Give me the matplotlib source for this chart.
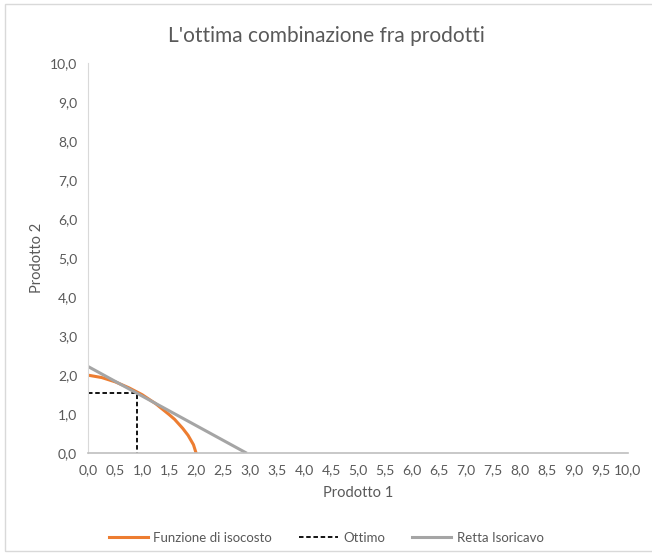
import matplotlib.pyplot as plt
from matplotlib.lines import Line2D
from matplotlib.ticker import FuncFormatter, MultipleLocator

# Funzione di isocosto
iso_x = [0.0, 0.25, 0.5, 0.75, 1.0, 1.25, 1.5, 1.6, 1.75, 1.85, 1.95, 2.0]
iso_y = [2.0, 1.94, 1.83, 1.68, 1.50, 1.27, 0.99, 0.87, 0.64, 0.46, 0.22, 0.0]

# Ottimo (dashed guide to the tangency point)
opt_x = [0.0, 0.91, 0.91]
opt_y = [1.55, 1.55, 0.0]

# Retta isoricavo
ret_x = [0.0, 2.94]
ret_y = [2.22, 0.0]

title = "L'ottima combinazione fra prodotti"
labels = ["Funzione di isocosto", "Ottimo", "Retta Isoricavo"]

plt.rcParams['font.family'] = ['Lato', 'DejaVu Sans']
txt = "#595959"

fig = plt.figure(figsize=(6.52, 5.57), dpi=100)
ax = fig.add_axes([0.1354, 0.1862, 0.8273, 0.7008])

ax.plot(iso_x, iso_y, color="#ed7d31", lw=2.2, label=labels[0], solid_joinstyle="round")
ax.plot(opt_x, opt_y, color="black", lw=1.3, ls=(0, (2.5, 1.5)), label=labels[1])
ax.plot(ret_x, ret_y, color="#a5a5a5", lw=2.2, label=labels[2], solid_capstyle="butt")

ax.set_xlim(0, 10)
ax.set_ylim(0, 10)
ax.xaxis.set_major_locator(MultipleLocator(0.5))
ax.yaxis.set_major_locator(MultipleLocator(1))
fmt = FuncFormatter(lambda v, p: f"{v:.1f}".replace(".", ","))
ax.xaxis.set_major_formatter(fmt)
ax.yaxis.set_major_formatter(fmt)
ax.tick_params(length=0, labelsize=10, labelcolor=txt, pad=8)

for s in ["top", "right"]:
    ax.spines[s].set_visible(False)
ax.spines["left"].set_color("#d9d9d9")
ax.spines["bottom"].set_color("#bfbfbf")
ax.spines["bottom"].set_linewidth(1.2)

ax.set_xlabel("Prodotto 1", fontsize=10.5, color=txt, labelpad=7)
ax.set_ylabel("Prodotto 2", fontsize=10.5, color=txt, labelpad=4)
fig.text(0.5, 0.935, title, ha="center", va="center", fontsize=15, color=txt)

handles = [
    Line2D([], [], color="#ed7d31", lw=2.2),
    Line2D([], [], color="black", lw=1.3, ls=(0, (2.5, 1.5))),
    Line2D([], [], color="#a5a5a5", lw=2.2),
]
fig.legend(handles, labels, loc="center", bbox_to_anchor=(0.5, 0.034), ncol=3,
           frameon=False, fontsize=9.5, labelcolor=txt, handlelength=3.0,
           handletextpad=0.4, columnspacing=2.0)

# light frame around the chart area
frame = plt.Rectangle((0.008, 0.01), 0.995, 0.982, transform=fig.transFigure,
                      fill=False, edgecolor="#d9d9d9", lw=1)
fig.patches.append(frame)

fig.savefig("out.png", dpi=100)
